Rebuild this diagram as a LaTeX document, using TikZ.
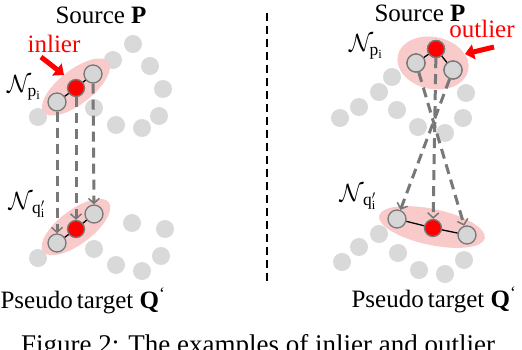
\documentclass[tikz,border=0pt]{standalone}
\usepackage{fontspec}
\setmainfont{Liberation Serif}
\usetikzlibrary{arrows.meta}
\definecolor{bgc}{RGB}{217,217,217}
\definecolor{ptc}{RGB}{214,214,214}
\definecolor{edgec}{RGB}{120,120,120}
\definecolor{pinkc}{RGB}{248,202,202}
\begin{document}
\begin{tikzpicture}[x=1pt,y=-1pt,
  bg/.style={circle,fill=bgc,minimum size=18pt,inner sep=0pt},
  pt/.style={circle,fill=ptc,draw=edgec,line width=1.3pt,minimum size=18pt,inner sep=0pt},
  rpt/.style={pt,fill=red,minimum size=17pt},
  hood/.style={fill=pinkc},
  link/.style={black,line width=1.3pt},
  corr/.style={draw=edgec,line width=3pt,dash pattern=on 10pt off 6pt,-{Straight Barb[length=5pt,width=11pt,line width=1.5pt]}},
  hint/.style={red,line width=5pt,-{Triangle[length=9pt,width=15pt]}},
  lbl/.style={font=\fontsize{25}{30}\selectfont,inner sep=0pt},
  captxt/.style={font=\fontsize{27}{32}\selectfont,inner sep=0pt}]
\useasboundingbox (0,0) rectangle (522,350);
\clip (0,0) rectangle (522,350);
\fill[white] (0,0) rectangle (522,350);

% ---------- left panel ----------
\foreach \x/\y in {133/44,113/60,150/66,163/89,159/116,142/128,116/125,94/108,38/117,
                   132/223,165/229,161/256,142/271,116/265,94/249,38/258}
  \node[bg] at (\x,\y) {};
\fill[hood] (76,87) ellipse [x radius=41, y radius=17, rotate=38];
\fill[hood] (76,227) ellipse [x radius=41, y radius=17, rotate=37];

\node[pt]  (lp1) at (57,102) {};
\node[rpt] (lp2) at (76,88) {};
\node[pt]  (lp3) at (93,74) {};
\node[pt]  (lq1) at (57,243) {};
\node[rpt] (lq2) at (76,229) {};
\node[pt]  (lq3) at (94,214) {};
\draw[link] (lp1) -- (lp2) -- (lp3);
\draw[link] (lq1) -- (lq2) -- (lq3);
\draw[corr] (lp1) -- (lq1);
\draw[corr] (lp2) -- (lq2);
\draw[corr] (lp3) -- (lq3);

\node[lbl] (lsrc) at (101,15) {Source \textbf{P}};
\node[lbl,red] (lin) at (54,44) {inlier};
\coordinate (lin0) at (41,57);
\coordinate (lin1) at (64,75);
\draw[hint] (lin0) -- (lin1);
\node[lbl] (lnp) at (24,88) {$\mathcal{N}_{\mathrm{p_i}}$};
\node[lbl] (lnq) at (27,205) {$\mathcal{N}_{\,\mathrm{q}'_{\mathrm{i}}}$};
\node[lbl] (ltgt) at (83,301) {Pseudo\,target \textbf{Q}\textsuperscript{‘}};

% ---------- divider ----------
\coordinate (d0) at (267,13);
\coordinate (d1) at (267,285);
\draw[black,line width=1.6pt,dash pattern=on 8pt off 5pt] (d0) -- (d1);

% ---------- right panel ----------
\foreach \x/\y in {392/77,379/92,359/107,340/118,397/110,418/127,445/133,466/93,463/118,
                   379/234,359/247,342/262,398/253,419/270,445/274,464/260}
  \node[bg] at (\x,\y) {};
\fill[hood] (433,63) ellipse [x radius=36, y radius=26, rotate=-12];
\fill[hood] (432,227) ellipse [x radius=54, y radius=18, rotate=-12];

\node[rpt] (rp2) at (436,49) {};
\node[pt]  (rp1) at (416,63) {};
\node[pt]  (rp3) at (453,70) {};
\node[pt]  (rq1) at (397,219) {};
\node[rpt] (rq2) at (433,228) {};
\node[pt]  (rq3) at (467,235) {};
\draw[link] (rp1) -- (rp2) -- (rp3);
\draw[link] (rq1) -- (rq2) -- (rq3);
\draw[corr] (rp1) -- (rq3);
\draw[corr] (rp2) -- (rq2);
\draw[corr] (rp3) -- (rq1);
\node[rpt] at (rp2) {};
\node[pt] at (rp1) {};
\node[pt] at (rp3) {};

\node[lbl] (rsrc) at (420,13) {Source \textbf{P}};
\node[lbl,red] (rout) at (482,29) {outlier};
\coordinate (rout0) at (494,47);
\coordinate (rout1) at (465,54);
\draw[hint] (rout0) -- (rout1);
\node[lbl] (rnp) at (366,47) {$\mathcal{N}_{\mathrm{p_i}}$};
\node[lbl] (rnq) at (358,197) {$\mathcal{N}_{\,\mathrm{q}'_{\mathrm{i}}}$};
\node[lbl] (rtgt) at (434,300) {Pseudo\,target \textbf{Q}\textsuperscript{‘}};

% ---------- caption (cut by the lower edge, as in the reference) ----------
\node[captxt,anchor=base] (capt) at (258,353) {Figure 2: The examples of inlier and outlier};
\end{tikzpicture}
\end{document}
